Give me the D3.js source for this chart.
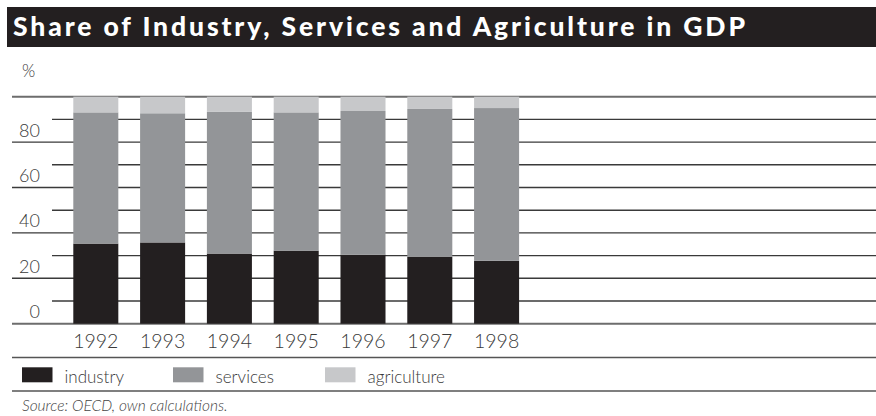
<!DOCTYPE html>
<html>
<head>
<meta charset="utf-8">
<script src="https://cdn.jsdelivr.net/npm/d3@7"></script>
<style>
  html, body { margin: 0; padding: 0; background: #fff; }
  svg { display: block; }
</style>
</head>
<body>
<svg id="chart" width="876" height="416"></svg>
<script>
const years = ["1992", "1993", "1994", "1995", "1996", "1997", "1998"];
const industry = [35.3, 35.8, 30.9, 32.2, 30.4, 29.5, 27.7];
const services = [57.8, 56.9, 62.4, 60.9, 63.3, 65.1, 67.3];
const agriculture = [6.9, 7.3, 6.7, 6.9, 6.3, 5.4, 5.0];
const seriesNames = ["industry", "services", "agriculture"];
const gridValues = [0, 10, 20, 30, 40, 50, 60, 70, 80, 90, 100];
const yTickLabels = [0, 20, 40, 60, 80];

const colors = { industry: "#231f20", services: "#939598", agriculture: "#c7c8ca" };
const W = 876;
const svg = d3.select("#chart");
const font = "Lato, 'Open Sans', 'DejaVu Sans', sans-serif";

// Title bar
svg.append("rect").attr("x", 7).attr("y", 7).attr("width", W - 7).attr("height", 40).attr("fill", "#231f20");
svg.append("text").attr("x", 13).attr("y", 36)
  .attr("fill", "#fff").attr("font-family", font).attr("font-weight", 900)
  .attr("font-size", 26.5).attr("textLength", 732).attr("lengthAdjust", "spacing")
  .text("Share of Industry, Services and Agriculture in GDP");

// % label
svg.append("text").attr("x", 22).attr("y", 77).attr("fill", "#3a3a3a")
  .attr("font-family", font).attr("font-weight", 300).attr("font-size", 17).text("%");

const y = d3.scaleLinear().domain([0, 100]).range([323.7, 96.7]);
const x = d3.scaleBand().domain(years).range([73.3, 519.1]).paddingInner(0.326).paddingOuter(0);

// gridlines
svg.append("g").selectAll("line").data(gridValues).join("line")
  .attr("x1", d => (d % 20 === 0) ? 12 : 52)
  .attr("x2", W)
  .attr("y1", d => y(d)).attr("y2", d => y(d))
  .attr("stroke", d => (d === 100 || d === 0) ? "#6d6d6d" : "#3a3a3a")
  .attr("stroke-width", d => (d === 100 || d === 0) ? 2 : 1.4);

// y labels
svg.append("g").selectAll("text").data(yTickLabels).join("text")
  .attr("x", 40).attr("y", d => y(d) - 5.5)
  .attr("text-anchor", "end").attr("fill", "#3a3a3a")
  .attr("font-family", font).attr("font-weight", 300).attr("font-size", 18)
  .text(d => d);

// stacked bars
const table = years.map((yr, i) => ({ year: yr, industry: industry[i], services: services[i], agriculture: agriculture[i] }));
const stack = d3.stack().keys(seriesNames)(table);
svg.append("g").selectAll("g").data(stack).join("g")
  .attr("fill", d => colors[d.key])
  .selectAll("rect").data(d => d).join("rect")
  .attr("x", d => x(d.data.year))
  .attr("width", x.bandwidth())
  .attr("y", d => y(d[1]))
  .attr("height", d => y(d[0]) - y(d[1]));

// x labels
const xAxis = d3.axisBottom(x).tickSize(0).tickPadding(0);
const gx = svg.append("g").attr("transform", "translate(0,334)").call(xAxis);
gx.select(".domain").remove();
gx.selectAll("text").attr("font-family", font).attr("font-weight", 300)
  .attr("font-size", 19.5).attr("fill", "#3a3a3a").attr("dy", "0.71em");

// separator lines
svg.append("line").attr("x1", 12).attr("x2", W).attr("y1", 357.5).attr("y2", 357.5)
  .attr("stroke", "#555").attr("stroke-width", 1.6);
svg.append("line").attr("x1", 12).attr("x2", W).attr("y1", 391).attr("y2", 391)
  .attr("stroke", "#555").attr("stroke-width", 1.6);

// legend
const legendX = [22, 173, 325];
const lg = svg.append("g").selectAll("g").data(seriesNames).join("g")
  .attr("transform", (d, i) => `translate(${legendX[i]},367.3)`);
lg.append("rect").attr("width", 30.5).attr("height", 15).attr("fill", d => colors[d]);
lg.append("text").attr("x", 42.5).attr("y", 15.5)
  .attr("font-family", font).attr("font-weight", 300).attr("font-size", 17)
  .attr("fill", "#3a3a3a").text(d => d);

// source
svg.append("text").attr("x", 22).attr("y", 411).attr("fill", "#444")
  .attr("font-family", font).attr("font-weight", 300).attr("font-style", "italic")
  .attr("font-size", 15.5).text("Source: OECD, own calculations.");
</script>
</body>
</html>
